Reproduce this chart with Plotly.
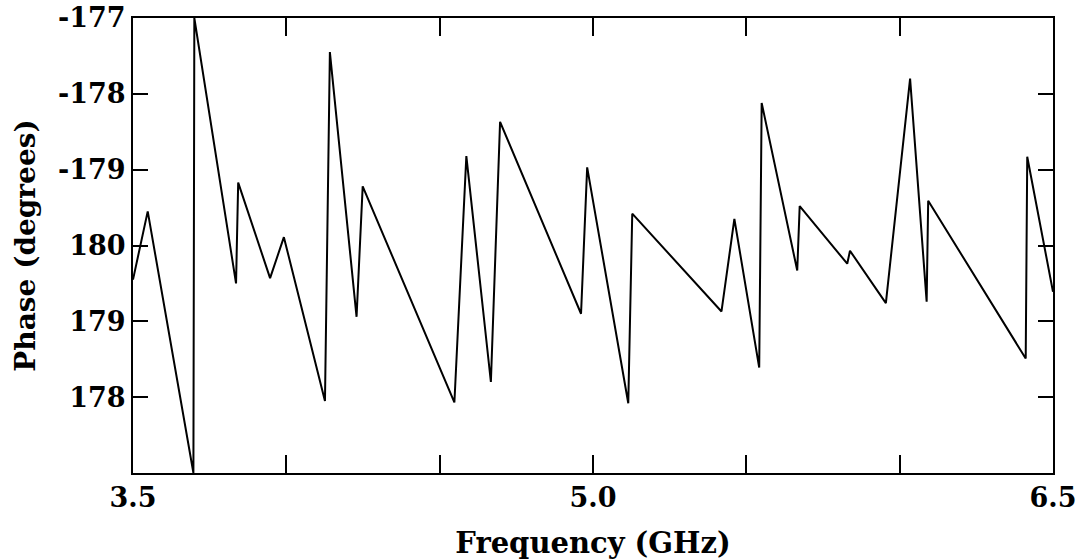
import plotly.graph_objects as go

# Frequency (GHz) and phase (degrees, continuous around 180; values >180 are shown as negative angles)
freq_ghz = [3.500, 3.548, 3.697, 3.700, 3.836, 3.843, 3.947, 3.992, 4.126, 4.142,
            4.229, 4.249, 4.548, 4.587, 4.667, 4.697, 4.961, 4.981, 5.115, 5.128,
            5.419, 5.461, 5.542, 5.550, 5.666, 5.674, 5.829, 5.838, 5.955, 6.034,
            6.088, 6.093, 6.411, 6.416, 6.500]
phase_deg = [179.55, 180.45, 177.00, 183.00, 179.50, 180.83, 179.57, 180.11, 177.95, 182.55,
             179.06, 180.78, 177.93, 181.18, 178.20, 181.63, 179.10, 181.03, 177.92, 180.42,
             179.13, 180.35, 178.39, 181.88, 179.67, 180.52, 179.76, 179.93, 179.24, 182.20,
             179.26, 180.59, 178.51, 181.17, 179.39]

x_tickvals = [3.5, 4.0, 4.5, 5.0, 5.5, 6.0, 6.5]
x_ticktext = ["3.5", "", "", "5.0", "", "", "6.5"]
y_tickvals = [177, 178, 179, 180, 181, 182, 183]
y_ticktext = ["", "178", "179", "180", "-179", "-178", "-177"]

FONT = "DejaVu Serif"

fig = go.Figure()
fig.add_trace(go.Scatter(x=freq_ghz, y=phase_deg, mode="lines",
                         line=dict(color="black", width=2), showlegend=False,
                         cliponaxis=False))

fig.update_layout(
    width=1078, height=560,
    margin=dict(l=133, r=25, t=18, b=87),
    paper_bgcolor="white", plot_bgcolor="white",
    font=dict(family=FONT, color="black"),
)
fig.update_xaxes(
    range=[3.5, 6.5], tickvals=x_tickvals, ticktext=x_ticktext,
    ticks="inside", ticklen=18, tickwidth=2, tickcolor="black",
    showline=True, linecolor="black", linewidth=2, mirror="ticks",
    showgrid=False, zeroline=False, automargin=False, ticklabeloverflow="allow",
    tickfont=dict(family=FONT, size=27, color="black", weight="bold"),
    title=dict(text="<b>Frequency (GHz)</b>", font=dict(family=FONT, size=29, color="black"),
               standoff=24),
)
fig.update_yaxes(
    range=[177, 183], tickvals=y_tickvals, ticktext=y_ticktext,
    ticks="inside", ticklen=15, tickwidth=2, tickcolor="black",
    showline=True, linecolor="black", linewidth=2, mirror="ticks",
    showgrid=False, zeroline=False, automargin=False, ticklabeloverflow="allow",
    tickfont=dict(family=FONT, size=27, color="black", weight="bold"),
    title=dict(text="<b>Phase (degrees)</b>", font=dict(family=FONT, size=28, color="black"),
               standoff=14),
)

# remove the default page margin so the figure fills the window exactly
fig.write_html("out.html", config={"displayModeBar": False},
               post_script="document.body.style.margin='0';")
